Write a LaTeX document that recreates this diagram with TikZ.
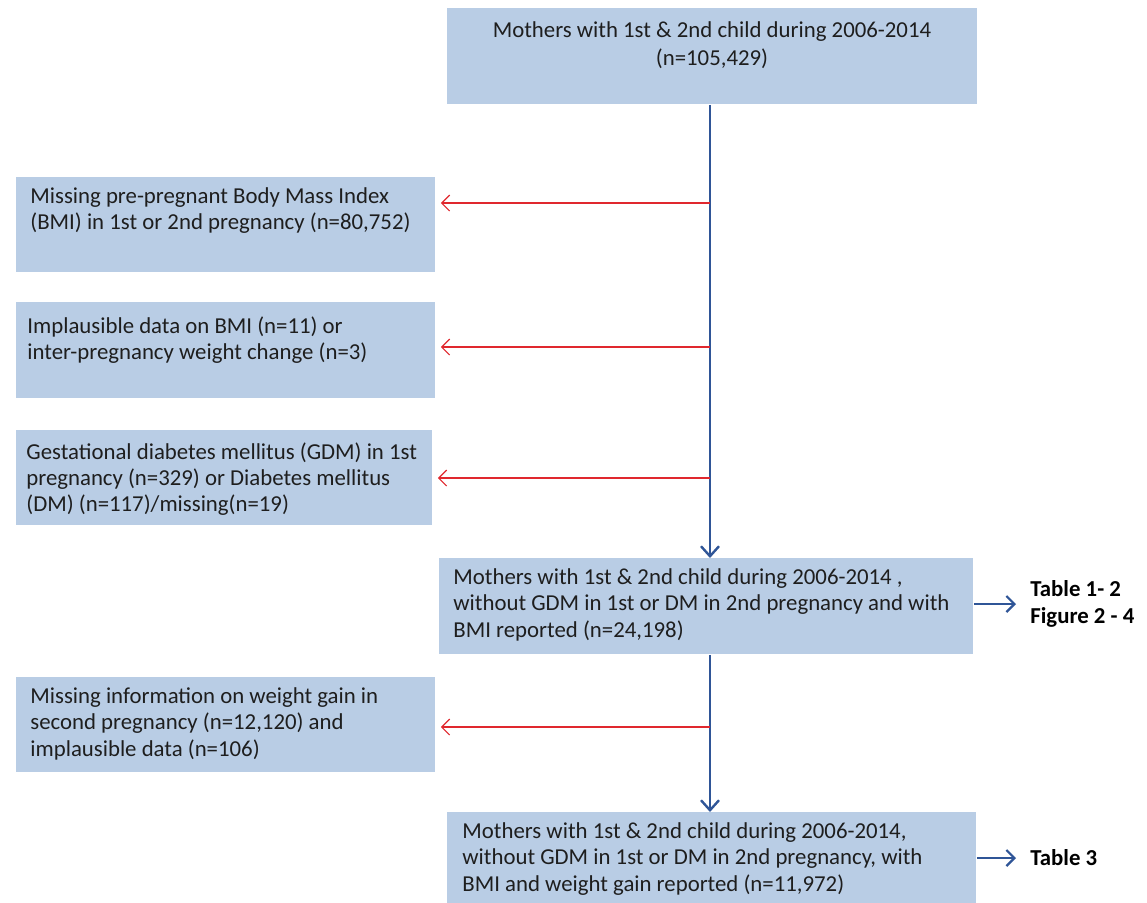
\documentclass[tikz,border=0pt]{standalone}
\usepackage{fontspec}
\setmainfont{Carlito}
\usetikzlibrary{arrows.meta,positioning}
\definecolor{boxfill}{HTML}{B9CDE5}
\definecolor{flowblue}{HTML}{2F5597}
\definecolor{flowred}{HTML}{E0282E}
\definecolor{txtcol}{HTML}{1E1E1E}
\begin{document}
\begin{tikzpicture}[x=0.5pt,y=-0.5pt,
 box/.style={fill=boxfill, draw=none, inner sep=0, anchor=north west},
 txt/.style={inner sep=0, anchor=north west, align=left, text=txtcol, font=\fontsize{11.4}{13.2}\selectfont},
 main/.style={draw=flowblue, line width=1.2pt, -{Straight Barb[length=5pt,width=9pt]}},
 excl/.style={draw=flowred, line width=0.6pt, shorten >=2.5pt, -{Straight Barb[length=4pt,width=8pt]}},
 side/.style={draw=flowblue, line width=1.1pt, shorten >=7pt, -{Straight Barb[length=4pt,width=8pt]}},
 lab/.style={font=\bfseries\fontsize{11.4}{13.5}\selectfont, inner sep=0, anchor=west, align=left}]
\useasboundingbox (0,0) rectangle (1147,902);
\node[box, minimum width=265pt, minimum height=48pt] (top) at (447,8) {};
\node[box, minimum width=209.5pt, minimum height=47.5pt] (b2) at (16,177) {};
\node[box, minimum width=209.5pt, minimum height=48pt] (b3) at (16,302) {};
\node[box, minimum width=208pt, minimum height=47.5pt] (b4) at (16,430) {};
\node[box, minimum width=267pt, minimum height=48pt] (b5) at (439,558) {};
\node[box, minimum width=209.5pt, minimum height=47.5pt] (b6) at (16,677) {};
\node[box, minimum width=264.5pt, minimum height=48pt] (b7) at (447,812) {};

\node[txt, anchor=north, align=center, font=\fontsize{11.4}{14}\selectfont] (t1) at (712,21) {Mothers with 1st \& 2nd child during 2006-2014\\(n=105,429)};
\node[txt] (t2) at (30,187) {Missing pre-pregnant Body Mass Index\\(BMI) in 1st or 2nd pregnancy (n=80,752)};
\node[txt] (t3) at (27,316) {Implausible data on BMI (n=11) or\\inter-pregnancy weight change (n=3)};
\node[txt] (t4) at (26,442) {Gestational diabetes mellitus (GDM) in 1st\\pregnancy (n=329) or Diabetes mellitus\\(DM) (n=117)/missing(n=19)};
\node[txt] (t5) at (453,568) {Mothers with 1st \& 2nd child during 2006-2014 ,\\without GDM in 1st or DM in 2nd pregnancy and with\\BMI reported (n=24,198)};
\node[txt] (t6) at (30,687) {Missing information on weight gain in\\second pregnancy (n=12,120) and\\implausible data (n=106)};
\node[txt] (t7) at (462,822) {Mothers with 1st \& 2nd child during 2006-2014,\\without GDM in 1st or DM in 2nd pregnancy, with\\BMI and weight gain reported (n=11,972)};

\node[lab] (l1) at (1030,604) {Table 1- 2\\Figure 2 - 4};
\node[lab] (l2) at (1030,858) {Table 3};

\coordinate (sp) at (710,0);
\coordinate (r1) at (710,203);
\coordinate (r2) at (710,347);
\coordinate (r3) at (710,478);
\coordinate (r4) at (710,727);

\draw[main] (sp |- top.south) -- (sp |- b5.north);
\draw[main] (sp |- b5.south) -- (sp |- b7.north);
\draw[excl] (r1) -- (r1 -| b2.east);
\draw[excl] (r2) -- (r2 -| b3.east);
\draw[excl] (r3) -- (r3 -| b4.east);
\draw[excl] (r4) -- (r4 -| b6.east);
\draw[side] (b5.east |- l1.west) -- (l1.west);
\draw[side] (b7.east |- l2.west) -- (l2.west);
\end{tikzpicture}
\end{document}
